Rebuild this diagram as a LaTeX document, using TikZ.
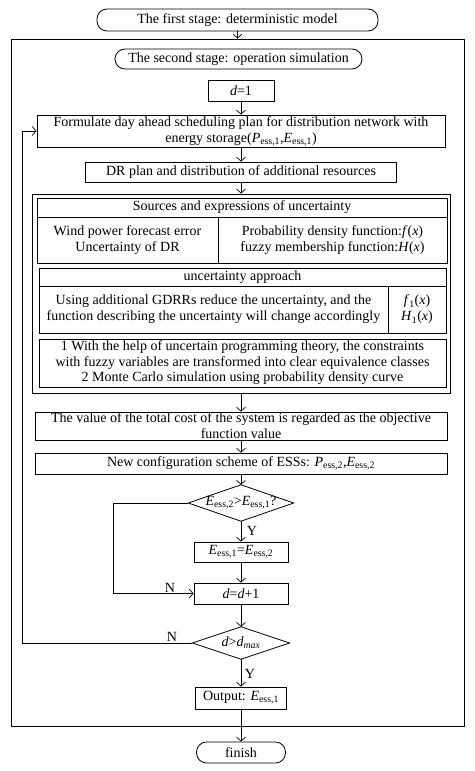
\documentclass[tikz,border=0pt]{standalone}
\usepackage{fontspec}
\setmainfont{Liberation Serif}
\usetikzlibrary{arrows.meta}
\newcommand\Ess[1]{\textit{E}\textsubscript{ess,#1}}
\newcommand\Pss[1]{\textit{P}\textsubscript{ess,#1}}
\begin{document}
\begin{tikzpicture}[x=1pt,y=-1pt,
  >={Straight Barb[length=4pt,width=9pt]},
  txt/.style={font=\fontsize{14}{16}\selectfont},
  box/.style={draw,line width=0.8pt,inner sep=0pt,align=center,txt},
  cell/.style={draw,line width=0.6pt,inner sep=0pt,align=center,txt},
  term/.style={box,rounded corners=10pt},
  dec/.style={inner sep=0pt,align=center,txt},
  decline/.style={line width=0.8pt},
  conn/.style={->,line width=0.7pt},
  lab/.style={txt,inner sep=0pt}]
\useasboundingbox (0,0) rectangle (474,771);
% outer frame
\node[box,line width=1pt,minimum width=453pt,minimum height=687pt] (outer) at (237.5,382.5) {};
\node[term,minimum width=281pt,minimum height=22pt] (fs) at (237.5,20) {The first stage: deterministic model};
\node[term,minimum width=247pt,minimum height=20pt] (ss) at (238.5,59) {The second stage: operation simulation};
\node[box,minimum width=66pt,minimum height=21pt] (d1) at (241,90.5) {\textit{d}=1};
\node[box,minimum width=408pt,minimum height=32pt] (form) at (241,131) {Formulate day ahead scheduling plan for distribution network with\\energy storage(\Pss1,\Ess1)};
\node[box,minimum width=311pt,minimum height=20pt] (dr) at (241,172) {DR plan and distribution of additional resources};
% uncertainty container
\node[box,line width=1pt,minimum width=418pt,minimum height=199pt] (unc) at (241,293.5) {};
\node[cell,minimum width=410pt,minimum height=19pt] (sh) at (242,207.5) {Sources and expressions of uncertainty};
\node[cell,minimum width=181pt,minimum height=46pt] (sl) at (127.5,240) {Wind power forecast error\\Uncertainty of DR};
\node[cell,minimum width=229pt,minimum height=46pt] (sr) at (332.5,240) {Probability density function:\textit{f}(\textit{x})\\fuzzy membership function:\textit{H}(\textit{x})};
\node[cell,minimum width=407pt,minimum height=18pt] (ah) at (242.5,277) {uncertainty approach};
\node[cell,minimum width=349pt,minimum height=47pt] (al) at (213.5,309.5) {Using additional GDRRs reduce the uncertainty, and the\\function describing the uncertainty will change accordingly};
\node[cell,minimum width=58pt,minimum height=47pt] (ar) at (417,309.5) {\textit{f}\textsubscript{1}(\textit{x})\\\textit{H}\textsubscript{1}(\textit{x})};
\node[cell,minimum width=407pt,minimum height=48pt,font=\fontsize{14}{15.5}\selectfont] (mth) at (242.5,363) {1 With the help of uncertain programming theory, the constraints\\with fuzzy variables are transformed into clear equivalence classes\\2 Monte Carlo simulation using probability density curve};
% lower chain
\node[box,minimum width=412pt,minimum height=28pt] (val) at (241,426) {The value of the total cost of the system is regarded as the objective\\function value};
\node[box,minimum width=412pt,minimum height=21pt] (cfg) at (241,463.5) {New configuration scheme of ESSs: \Pss2,\Ess2};
\node[dec,minimum width=105pt,minimum height=36pt] (dia1) at (241,503) {\Ess2>\Ess1?};
\draw[decline] (dia1.north) -- (dia1.east) -- (dia1.south) -- (dia1.west) -- cycle;
\node[box,minimum width=94pt,minimum height=20pt] (ee) at (241,552) {\Ess1=\Ess2};
\node[box,minimum width=94pt,minimum height=21pt] (dd) at (241,593.5) {\textit{d}=\textit{d}+1};
\node[dec,minimum width=97pt,minimum height=32pt] (dia2) at (241,643) {\textit{d}>\textit{d}\textsubscript{\textit{max}}};
\draw[decline] (dia2.north) -- (dia2.east) -- (dia2.south) -- (dia2.west) -- cycle;
\node[box,minimum width=91pt,minimum height=22pt] (out) at (241,698) {Output: \Ess1};
\node[term,minimum width=89pt,minimum height=21pt] (fin) at (241,752.5) {finish};
\coordinate (c1) at (113,0);
\coordinate (c2) at (22,0);
% connectors
\draw[conn] (fs.south) -- (fs.south |- outer.north);
\draw[conn] (d1) -- (form);
\draw[conn] (form) -- (dr);
\draw[conn] (dr) -- (unc);
\draw[conn] (unc) -- (val);
\draw[conn] (val) -- (cfg);
\draw[conn] (cfg) -- (dia1);
\draw[conn] (dia1) -- (ee);
\draw[conn] (ee) -- (dd);
\draw[conn] (dd) -- (dia2);
\draw[conn] (dia2) -- (out);
\draw[conn] (out) -- (fin);
\draw[conn] (dia1.west) -- (dia1.west -| c1) |- (dd.west);
\draw[conn] (dia2.west) -- (dia2.west -| c2) |- (form.west);
\node[lab] (y1) at (252,531) {Y};
\node[lab] (n1) at (170,588) {N};
\node[lab] (n2) at (172,637) {N};
\node[lab] (y2) at (250,674) {Y};
\end{tikzpicture}
\end{document}
